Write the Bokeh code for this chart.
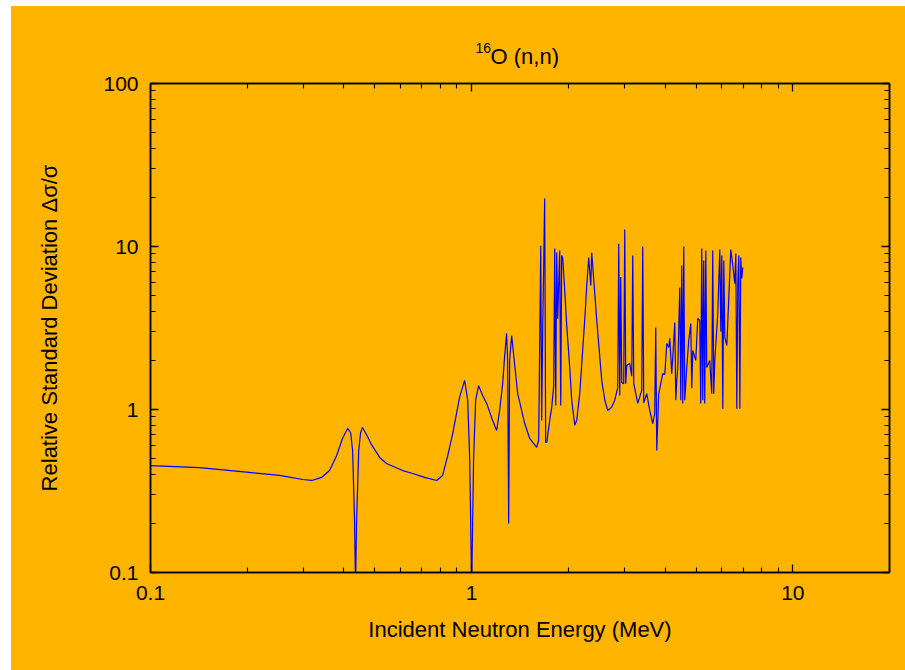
from bokeh.plotting import figure
from bokeh.models import FixedTicker, Spacer, LogAxis, Range1d
from bokeh.layouts import row, column
from bokeh.core.properties import value
from bokeh.embed import file_html
from bokeh.resources import INLINE

# Incident neutron energy (MeV)
energy = [
    0.100, 0.142, 0.199, 0.252, 0.298, 0.318, 0.341, 0.361, 0.380, 0.396,
    0.411, 0.420, 0.426, 0.432, 0.435, 0.438, 0.445, 0.451, 0.457, 0.474,
    0.485, 0.517, 0.543, 0.610, 0.655, 0.714, 0.778, 0.812, 0.842, 0.873,
    0.918, 0.951, 0.972, 0.986, 1.000, 1.014, 1.029, 1.051, 1.082, 1.114,
    1.154, 1.196, 1.222, 1.249, 1.267, 1.285, 1.294, 1.304, 1.313, 1.332,
    1.352, 1.391, 1.463, 1.516, 1.594, 1.617, 1.641, 1.652, 1.664, 1.688,
    1.700, 1.713, 1.750, 1.775, 1.801, 1.814, 1.827, 1.840, 1.853, 1.880,
    1.894, 1.907, 1.921, 1.949, 1.977, 2.020, 2.049, 2.094, 2.124, 2.170,
    2.249, 2.282, 2.315, 2.332, 2.349, 2.365, 2.452, 2.541, 2.598, 2.653,
    2.724, 2.790, 2.850, 2.871, 2.891, 2.912, 2.933, 2.975, 2.997, 3.018,
    3.040, 3.106, 3.151, 3.174, 3.197, 3.290, 3.385, 3.410, 3.434, 3.509,
    3.585, 3.663, 3.716, 3.743, 3.770, 3.824, 3.936, 3.993, 4.051, 4.109,
    4.139, 4.198, 4.259, 4.290, 4.321, 4.352, 4.383, 4.446, 4.478, 4.510,
    4.543, 4.575, 4.609, 4.675, 4.742, 4.811, 4.846, 4.881, 4.987, 5.058,
    5.131, 5.168, 5.205, 5.243, 5.280, 5.319, 5.358, 5.396, 5.513, 5.592,
    5.632, 5.673, 5.715, 5.839, 5.924, 5.967, 6.010, 6.053, 6.097, 6.141,
    6.229, 6.365, 6.411, 6.503, 6.597, 6.645, 6.693, 6.742, 6.790, 6.839,
    6.887, 6.937, 6.987,
]

# Relative standard deviation
rel_dev = [
    0.453, 0.440, 0.413, 0.394, 0.372, 0.367, 0.383, 0.422, 0.522, 0.664,
    0.765, 0.720, 0.560, 0.200, 0.080, 0.200, 0.560, 0.720, 0.776, 0.683,
    0.620, 0.508, 0.466, 0.422, 0.405, 0.383, 0.367, 0.394, 0.520, 0.712,
    1.200, 1.510, 1.140, 0.500, 0.080, 0.500, 1.140, 1.400, 1.220, 1.090,
    0.890, 0.743, 0.986, 1.440, 2.140, 2.930, 2.000, 0.200, 2.000, 2.840,
    2.140, 1.250, 0.820, 0.664, 0.585, 0.650, 10.10, 0.857, 3.000, 19.70,
    0.628, 0.628, 0.857, 1.030, 1.400, 9.720, 1.060, 9.200, 3.600, 9.450,
    1.060, 8.810, 8.500, 5.370, 3.270, 1.810, 1.140, 0.800, 0.860, 1.250,
    3.520, 5.760, 8.560, 7.000, 5.760, 9.190, 3.520, 1.510, 1.140, 0.986,
    1.030, 1.140, 1.360, 10.40, 1.220, 6.500, 1.460, 1.440, 12.70, 1.440,
    1.860, 1.920, 1.600, 8.810, 1.440, 1.090, 1.310, 10.00, 1.100, 1.250,
    0.986, 0.820, 0.945, 3.190, 0.560, 1.250, 1.660, 1.640, 2.540, 2.400,
    2.730, 1.660, 2.650, 3.420, 1.140, 1.510, 1.810, 5.600, 1.140, 7.650,
    1.090, 10.00, 1.140, 1.810, 2.650, 3.370, 1.350, 2.300, 2.000, 3.620,
    3.520, 1.090, 9.720, 1.140, 8.200, 1.090, 9.450, 1.810, 2.000, 1.250,
    9.450, 1.250, 2.000, 3.880, 9.590, 3.000, 8.810, 1.010, 8.200, 2.770,
    2.470, 6.830, 9.590, 7.650, 5.930, 9.060, 1.010, 6.190, 8.810, 1.010,
    8.560, 6.360, 7.430,
]

x_ticks = [0.1, 1.0, 10.0]
x_tick_labels = ["0.1", "1", "10"]
x_minor = [0.2, 0.3, 0.4, 0.5, 0.6, 0.7, 0.8, 0.9,
           2, 3, 4, 5, 6, 7, 8, 9, 20]
y_ticks = [0.1, 1.0, 10.0, 100.0]
y_tick_labels = ["0.1", "1", "10", "100"]
y_minor = [0.2, 0.3, 0.4, 0.5, 0.6, 0.7, 0.8, 0.9,
           2, 3, 4, 5, 6, 7, 8, 9,
           20, 30, 40, 50, 60, 70, 80, 90]

title_sup = "16"
title_main = "O (n,n)"
x_label = "Incident Neutron Energy (MeV)"
y_label = "Relative Standard Deviation \u0394\u03c3/\u03c3"

ORANGE = "#FFB400"
FONT = "Liberation Sans"
W = 894
TITLE_H = 62
FRAME_W = 739

# ---- title strip (frame is aligned with the main plot frame; pixel coords, y down) ----
t = figure(title=None, width=W, height=TITLE_H, x_range=Range1d(0, FRAME_W),
           y_range=Range1d(TITLE_H, 0), output_backend="svg",
           toolbar_location=None, x_axis_location=None, y_axis_location=None,
           min_border=0, min_border_left=139, min_border_right=16,
           min_border_top=0, min_border_bottom=0,
           background_fill_color=None,
           border_fill_color=ORANGE, outline_line_color=None)
t.grid.visible = False
t.text(x=[325], y=[41], text=[title_sup], text_font=value(FONT),
       text_font_size="14px", text_color="black", text_align="left",
       text_baseline="alphabetic")
t.text(x=[340], y=[50], text=[title_main], text_font=value(FONT),
       text_font_size="22px", text_color="black", text_align="left",
       text_baseline="alphabetic")

# ---- main plot ----
p = figure(width=W, height=664 - TITLE_H, x_axis_type="log", y_axis_type="log",
           x_range=Range1d(0.1, 20), y_range=Range1d(0.1, 100),
           output_backend="svg", toolbar_location=None,
           min_border_left=139, min_border_right=16,
           min_border_top=77 - TITLE_H, min_border_bottom=98,
           background_fill_color=ORANGE, border_fill_color=ORANGE,
           outline_line_color="black", outline_line_width=1.5)
p.grid.visible = False

p.line(energy, rel_dev, line_color="#0000FF", line_width=1.2)


def style_axis(ax, ticks, minor, labels, show):
    ax.ticker = FixedTicker(ticks=ticks, minor_ticks=minor)
    ax.major_label_overrides = {float(tk): (lb if show else "") for tk, lb in zip(ticks, labels)}
    ax.major_tick_in = 8
    ax.major_tick_out = 0
    ax.minor_tick_in = 5
    ax.minor_tick_out = 0
    ax.axis_line_color = "black"
    ax.axis_line_width = 1.5
    ax.major_tick_line_color = "black"
    ax.minor_tick_line_color = "black"
    ax.major_tick_line_width = 1.3
    ax.minor_tick_line_width = 1.1
    ax.major_label_text_font = FONT
    ax.major_label_text_font_size = "21px" if show else "0px"
    ax.major_label_text_color = "black"
    ax.axis_label_text_font = FONT
    ax.axis_label_text_font_size = "22px"
    ax.axis_label_text_font_style = "normal"
    ax.axis_label_text_color = "black"


xb = p.xaxis[0]
yl = p.yaxis[0]
style_axis(xb, x_ticks, x_minor, x_tick_labels, True)
style_axis(yl, y_ticks, y_minor, y_tick_labels, True)
xb.axis_label = x_label
yl.axis_label = y_label
xb.major_label_standoff = 13
xb.axis_label_standoff = 14
yl.major_label_standoff = 12
yl.axis_label_standoff = 38

xt = LogAxis()
style_axis(xt, x_ticks, x_minor, x_tick_labels, False)
xt.major_label_standoff = 0
p.add_layout(xt, "above")
yr = LogAxis()
style_axis(yr, y_ticks, y_minor, y_tick_labels, False)
yr.major_label_standoff = 0
p.add_layout(yr, "right")

body = column(t, p, spacing=0, styles={"background-color": ORANGE})
layout = row(Spacer(width=11), column(Spacer(height=6), body, spacing=0), spacing=0)

open("out.html", "w").write(file_html(layout, INLINE))
